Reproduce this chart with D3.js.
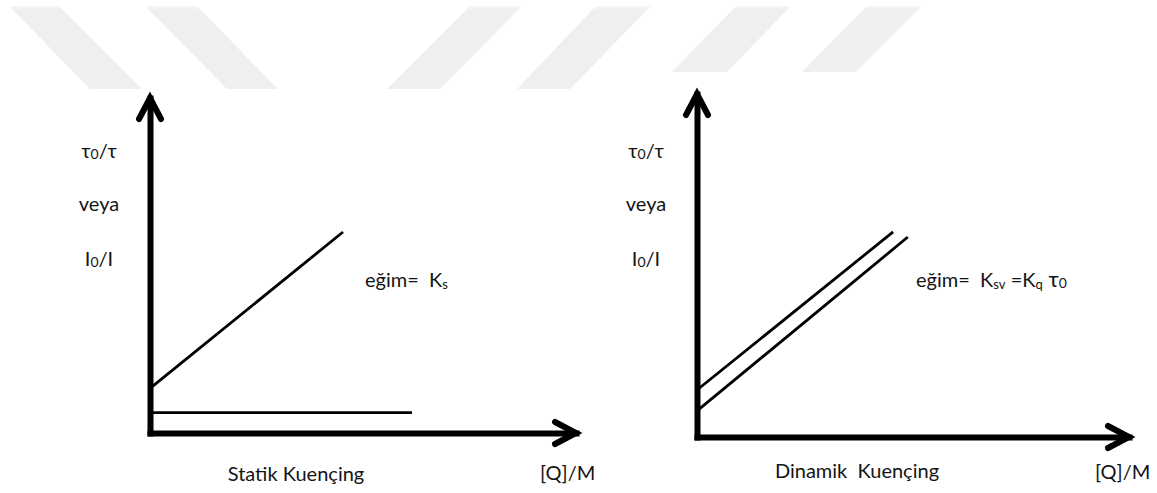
<!DOCTYPE html>
<html>
<head>
<meta charset="utf-8">
<script src="https://cdn.jsdelivr.net/npm/d3@7"></script>
<style>
  html, body { margin: 0; padding: 0; background: #fff; overflow: hidden; }
  text { font-family: Lato, "Open Sans", sans-serif; fill: #141414; }
</style>
</head>
<body>
<script>
// Stern–Volmer plots: static quenching (left) and dynamic quenching (right).
// Values are in arbitrary axis units (0–10 on both axes).

// Static quenching: the intensity ratio rises with slope Ks, the lifetime ratio stays flat.
const staticIntensity = [[0, 1.33], [4.53, 6.0]];
const staticLifetime  = [[0, 0.61], [6.15, 0.61]];

// Dynamic quenching: both ratios rise with the same slope Ksv = Kq·τ0.
const dynamicUpper = [[0, 1.37], [4.54, 5.98]];
const dynamicLower = [[0, 0.76], [4.88, 5.83]];

const yLabelRows = ["tau", "veya", "I"];
const panelTitles = ["Statik Kuençing", "Dinamik\u00a0 Kuençing"];
const xAxisTitle = "[Q]/M";

const W = 1157, H = 493;
const svg = d3.select("body").append("svg")
  .attr("width", W).attr("height", H)
  .style("display", "block");

// faint diagonal band pattern behind the figure
const bands = [
  [[9, 6], [59, 6], [142, 89], [90, 89]],
  [[145, 6], [197, 6], [278, 89], [227, 89]],
  [[470, 6], [522, 6], [440, 89], [387, 89]],
  [[596, 6], [651, 6], [570, 89], [517, 89]],
  [[736, 6], [791, 6], [727, 72], [672, 72]],
  [[867, 6], [922, 6], [856, 72], [802, 72]]
];
const grad = svg.append("defs").append("linearGradient")
  .attr("id", "bandFade").attr("x1", 0).attr("y1", 0).attr("x2", 0).attr("y2", 1);
grad.append("stop").attr("offset", "0").attr("stop-color", "#f7f7f7");
grad.append("stop").attr("offset", "0.05").attr("stop-color", "#efefef");
grad.append("stop").attr("offset", "1").attr("stop-color", "#efefef");
svg.append("g").selectAll("path").data(bands).join("path")
  .attr("d", d => "M" + d.join("L") + "Z")
  .attr("fill", "url(#bandFade)");

const panels = [
  {
    x0: 150, x1: 576, y0: 433, y1: 98,
    lines: [staticIntensity, staticLifetime],
    title: panelTitles[0], titleX: 296, titleY: 481,
    qX: 540, qY: 480,
    labelX: 99,
    slope: { x: 365, y: 287, kind: "static" }
  },
  {
    x0: 697, x1: 1129, y0: 437, y1: 94,
    lines: [dynamicUpper, dynamicLower],
    title: panelTitles[1], titleX: 857, titleY: 478,
    qX: 1095, qY: 479,
    labelX: 646,
    slope: { x: 916, y: 287, kind: "dynamic" }
  }
];

panels.forEach(p => {
  const x = d3.scaleLinear().domain([0, 10]).range([p.x0, p.x1]);
  const y = d3.scaleLinear().domain([0, 10]).range([p.y0, p.y1]);
  const g = svg.append("g");

  // axes: bare domain lines, no ticks
  const ax = g.append("g").attr("transform", `translate(0,${p.y0})`)
    .call(d3.axisBottom(x).tickValues([]).tickSizeOuter(0));
  const ay = g.append("g").attr("transform", `translate(${p.x0},0)`)
    .call(d3.axisLeft(y).tickValues([]).tickSizeOuter(0));
  [ax, ay].forEach(a => a.select(".domain")
    .attr("stroke", "#000").attr("stroke-width", 6).attr("stroke-linecap", "square"));

  // arrowheads at the ends of both axes
  const tipX = x(10), tipY = y(10);
  g.append("path")
    .attr("d", `M${tipX - 21},${p.y0 - 11}L${tipX},${p.y0}L${tipX - 21},${p.y0 + 11}`)
    .attr("fill", "none").attr("stroke", "#000").attr("stroke-width", 6)
    .attr("stroke-linejoin", "miter").attr("stroke-linecap", "round");
  g.append("path")
    .attr("d", `M${p.x0 - 11},${tipY + 21}L${p.x0},${tipY}L${p.x0 + 11},${tipY + 21}`)
    .attr("fill", "none").attr("stroke", "#000").attr("stroke-width", 6)
    .attr("stroke-linejoin", "miter").attr("stroke-linecap", "round");

  // data lines
  const line = d3.line().x(d => x(d[0])).y(d => y(d[1]));
  g.selectAll("path.series").data(p.lines).join("path")
    .attr("class", "series")
    .attr("d", line)
    .attr("fill", "none").attr("stroke", "#000").attr("stroke-width", 2.8);

  // y-axis label stack
  const rowsY = [158, 211, 266];
  yLabelRows.forEach((r, i) => {
    const t = g.append("text").attr("x", p.labelX).attr("y", rowsY[i])
      .attr("text-anchor", "middle").attr("font-size", 20);
    if (r === "tau") {
      t.append("tspan").text("τ");
      t.append("tspan").attr("font-size", 14).attr("dy", 1).text("0");
      t.append("tspan").attr("dy", -1).text("/τ");
    } else if (r === "I") {
      t.append("tspan").text("I");
      t.append("tspan").attr("font-size", 14).attr("dy", 1).text("0");
      t.append("tspan").attr("dy", -1).text("/I");
    } else {
      t.text(r);
    }
  });

  // slope annotation
  const s = g.append("text").attr("x", p.slope.x).attr("y", p.slope.y).attr("font-size", 20);
  s.append("tspan").text("eğim=\u00a0 K");
  if (p.slope.kind === "static") {
    s.append("tspan").attr("font-size", 13).attr("dy", 2).text("s");
  } else {
    s.append("tspan").attr("font-size", 13).attr("dy", 2).text("sv");
    s.append("tspan").attr("dy", -2).text(" =K");
    s.append("tspan").attr("font-size", 13).attr("dy", 2).text("q");
    s.append("tspan").attr("dy", -2).attr("font-size", 22).text(" τ");
    s.append("tspan").attr("font-size", 14).attr("dy", 1).text("0");
  }

  // panel title and x-axis title
  g.append("text").attr("x", p.titleX).attr("y", p.titleY)
    .attr("text-anchor", "middle").attr("font-size", 20).text(p.title);
  g.append("text").attr("x", p.qX).attr("y", p.qY)
    .attr("font-size", 20).text(xAxisTitle);
});
</script>
</body>
</html>
